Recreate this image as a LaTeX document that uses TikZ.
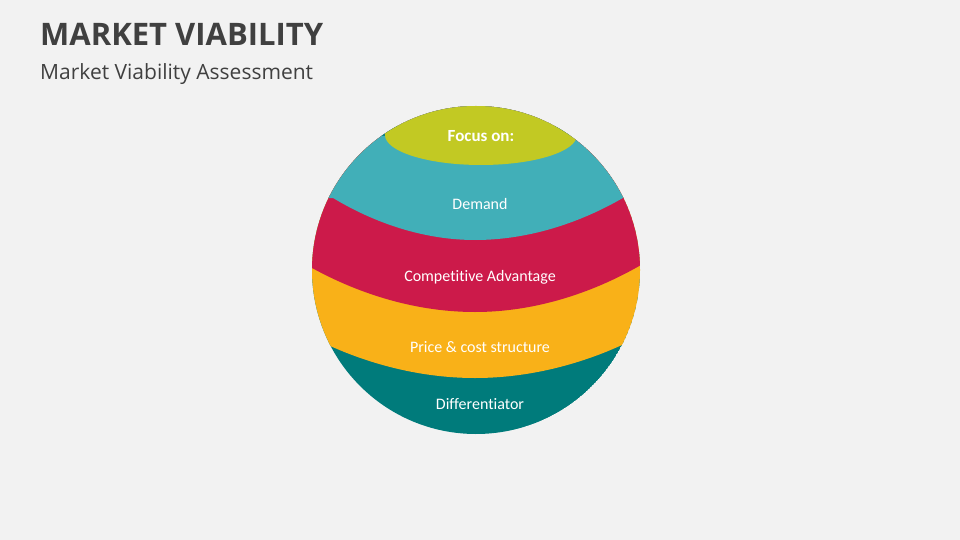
\documentclass[tikz,border=0pt]{standalone}
\usepackage{fontspec}
\setmainfont{Open Sans}
\newfontfamily\lab[Ligatures={NoCommon,NoRequired,NoContextual}]{Carlito}
\definecolor{bg}{HTML}{F2F2F2}
\definecolor{ttl}{HTML}{404040}
\definecolor{clime}{HTML}{C2C923}
\definecolor{cteal}{HTML}{41AFB8}
\definecolor{cred}{HTML}{CC1A4A}
\definecolor{cyel}{HTML}{F9B118}
\definecolor{cdark}{HTML}{007B7B}
\begin{document}
\begin{tikzpicture}[x=1pt,y=-1pt,
  lbl/.style={text=white,font=\lab\fontsize{16}{18}\selectfont,anchor=center}]
\fill[bg] (0,0) rectangle (960,540);
\node[anchor=base west,inner sep=0,text=ttl,font=\bfseries\fontsize{31}{34}\selectfont] (title) at (40,46) {MARKET VIABILITY};
\node[anchor=base west,inner sep=0,text=ttl,font=\fontsize{21}{24}\selectfont] (sub) at (40,80) {Market Viability Assessment};
\begin{scope}
\clip (476,270) circle (164);
\fill[cdark] (476,270) circle (164);
\fill[cyel] (290,345) -- (328,345) parabola bend (475,378) (622,345) -- (660,345) -- (660,90) -- (290,90) -- cycle;
\fill[cred] (290,268) -- (312,268) parabola bend (475,312) (641,265) -- (660,265) -- (660,90) -- (290,90) -- cycle;
\fill[cteal] (290,198) -- (333,198) parabola bend (475,240) (628,195) -- (660,195) -- (660,90) -- (290,90) -- cycle;
\fill[cdark!80!cteal] (381,126) rectangle (581,136);
\fill[clime] (481,135) ellipse (96 and 30);
\end{scope}
\node[lbl,font=\lab\bfseries\fontsize{17}{19}\selectfont] (focus) at (481,136) {Focus on:};
\node[lbl] (demand) at (480,204) {Demand};
\node[lbl] (comp) at (480,277) {Competitive Advantage};
\node[lbl] (price) at (480,347) {Price \& cost structure};
\node[lbl] (diff) at (480,404) {Differentiator};
\end{tikzpicture}
\end{document}
